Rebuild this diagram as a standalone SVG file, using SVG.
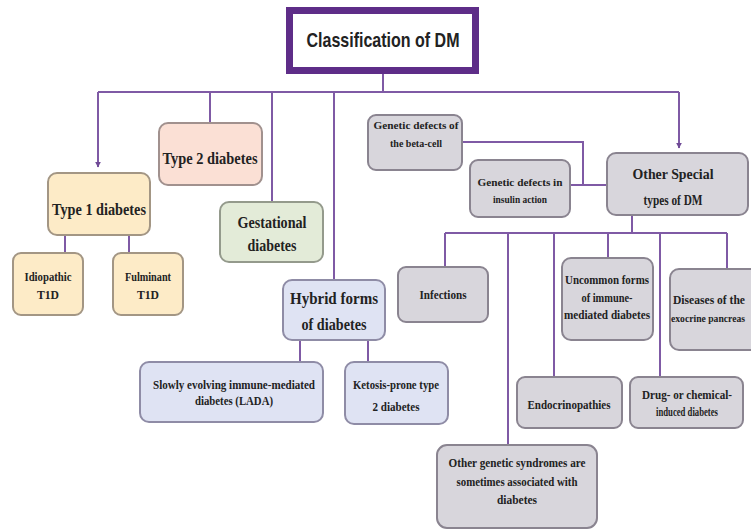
<svg xmlns="http://www.w3.org/2000/svg" width="751" height="531" viewBox="0 0 751 531">
<defs>
<marker id="arr" viewBox="0 0 10 10" refX="9" refY="5" markerWidth="6" markerHeight="6" markerUnits="userSpaceOnUse" orient="auto">
<path d="M0,0 L10,5 L0,10 z" fill="#6f4a96"/>
</marker>
<style>
.c{fill:none;stroke:#7f5aa5;stroke-width:2}
.b{stroke-width:2}
.y{fill:#fdebc7;stroke:#a39684}
.o{fill:#fbe0d5;stroke:#a1918e}
.g{fill:#e3ebd8;stroke:#949a8c}
.l{fill:#dfe3f3;stroke:#8f8ca6}
.k{fill:#d8d6dc;stroke:#8a8490}
text{font-family:"Liberation Serif","Times New Roman",serif;font-weight:bold;fill:#222;text-anchor:middle}
.t1{font-size:17px}
.t2{font-size:15px}
.t3{font-size:12px}
.t4{font-size:11px}
.t5{font-size:10.5px}
</style>
</defs>
<rect width="751" height="531" fill="#ffffff"/>
<g id="connectors">
<path class="c" d="M383,72 V92 M98,92 H679 M210,92 V123 M272,92 V202 M334,92 V280"/>
<path class="c" d="M98,92 V167" marker-end="url(#arr)"/>
<path class="c" d="M679,92 V148" marker-end="url(#arr)"/>
<path class="c" d="M65,235 V253 M129,235 V253 M300,340 V362 M368,340 V362"/>
<path class="c" d="M462,142 H583 V185 M570,185 H607"/>
<path class="c" d="M632,215 V233 M445,233 H727 M445,233 V267 M508,233 V445 M554,233 V377 M608,233 V258 M660,233 V377 M727,233 V268"/>
</g>
<g id="title">
<rect x="289.5" y="10.5" width="186" height="60" fill="#ffffff" stroke="#5e2d88" stroke-width="7"/>
<text x="383" y="47" style="font-family:'Liberation Sans',Arial,sans-serif;font-size:21px" textLength="153" lengthAdjust="spacingAndGlyphs">Classification of DM</text>
</g>
<g id="type1">
<rect class="b y" x="48" y="173" width="102" height="62" rx="9"/>
<text class="t1" x="99" y="215" textLength="94" lengthAdjust="spacingAndGlyphs">Type 1 diabetes</text>
</g>
<g id="idiopathic">
<rect class="b y" x="13" y="253" width="70" height="62" rx="8"/>
<text class="t3" x="48" y="281" textLength="47" lengthAdjust="spacingAndGlyphs">Idiopathic</text>
<text class="t3" x="48" y="299" textLength="22" lengthAdjust="spacingAndGlyphs">T1D</text>
</g>
<g id="fulminant">
<rect class="b y" x="113" y="253" width="70" height="62" rx="8"/>
<text class="t3" x="148" y="281" textLength="46" lengthAdjust="spacingAndGlyphs">Fulminant</text>
<text class="t3" x="148" y="299" textLength="22" lengthAdjust="spacingAndGlyphs">T1D</text>
</g>
<g id="type2">
<rect class="b o" x="159" y="123" width="103" height="62" rx="9"/>
<text class="t1" x="210" y="164" textLength="95" lengthAdjust="spacingAndGlyphs">Type 2 diabetes</text>
</g>
<g id="gestational">
<rect class="b g" x="220" y="202" width="103" height="60" rx="9"/>
<text class="t1" x="272" y="228" textLength="69" lengthAdjust="spacingAndGlyphs">Gestational</text>
<text class="t1" x="272" y="251" textLength="49" lengthAdjust="spacingAndGlyphs">diabetes</text>
</g>
<g id="hybrid">
<rect class="b l" x="283" y="280" width="102" height="60" rx="9"/>
<text class="t1" x="334" y="304" textLength="88" lengthAdjust="spacingAndGlyphs">Hybrid forms</text>
<text class="t1" x="334" y="330" textLength="65" lengthAdjust="spacingAndGlyphs">of diabetes</text>
</g>
<g id="lada">
<rect class="b l" x="140" y="362" width="183" height="60" rx="9"/>
<text class="t3" x="234" y="389" textLength="162" lengthAdjust="spacingAndGlyphs">Slowly evolving immune-mediated</text>
<text class="t3" x="234" y="405" textLength="78" lengthAdjust="spacingAndGlyphs">diabetes (LADA)</text>
</g>
<g id="ketosis">
<rect class="b l" x="345" y="362" width="103" height="62" rx="9"/>
<text class="t3" x="396" y="389" textLength="86" lengthAdjust="spacingAndGlyphs">Ketosis-prone type</text>
<text class="t3" x="396" y="411" textLength="47" lengthAdjust="spacingAndGlyphs">2 diabetes</text>
</g>
<g id="beta-cell">
<rect class="b k" x="368" y="115" width="94" height="55" rx="8"/>
<text class="t4" x="416" y="129" textLength="85" lengthAdjust="spacingAndGlyphs">Genetic defects of</text>
<text class="t4" x="416" y="147" textLength="52" lengthAdjust="spacingAndGlyphs">the beta-cell</text>
</g>
<g id="insulin-action">
<rect class="b k" x="470" y="160" width="100" height="57" rx="8"/>
<text class="t4" x="520" y="186" textLength="85" lengthAdjust="spacingAndGlyphs">Genetic defects in</text>
<text class="t4" x="520" y="203" textLength="54" lengthAdjust="spacingAndGlyphs">insulin action</text>
</g>
<g id="other-special">
<rect class="b k" x="607" y="153" width="141" height="62" rx="9"/>
<text class="t2" x="673" y="179" textLength="81" lengthAdjust="spacingAndGlyphs">Other Special</text>
<text class="t2" x="673" y="205" textLength="59" lengthAdjust="spacingAndGlyphs">types of DM</text>
</g>
<g id="infections">
<rect class="b k" x="398" y="267" width="90" height="55" rx="8"/>
<text class="t3" x="443" y="299" textLength="47" lengthAdjust="spacingAndGlyphs">Infections</text>
</g>
<g id="uncommon">
<rect class="b k" x="562" y="258" width="91" height="82" rx="9"/>
<text class="t3" x="607" y="284" textLength="84" lengthAdjust="spacingAndGlyphs">Uncommon forms</text>
<text class="t3" x="607" y="302" textLength="51" lengthAdjust="spacingAndGlyphs">of immune-</text>
<text class="t3" x="607" y="319" textLength="86" lengthAdjust="spacingAndGlyphs">mediated diabetes</text>
</g>
<g id="exocrine">
<rect class="b k" x="670" y="269" width="104" height="81" rx="9"/>
<text class="t3" x="709" y="304" textLength="72" lengthAdjust="spacingAndGlyphs">Diseases of the</text>
<text class="t5" x="708" y="322" textLength="74" lengthAdjust="spacingAndGlyphs">exocrine pancreas</text>
</g>
<g id="endocrinopathies">
<rect class="b k" x="517" y="377" width="105" height="51" rx="8"/>
<text class="t3" x="569" y="409" textLength="83" lengthAdjust="spacingAndGlyphs">Endocrinopathies</text>
</g>
<g id="drug">
<rect class="b k" x="630" y="377" width="113" height="51" rx="8"/>
<text class="t3" x="687" y="399" textLength="90" lengthAdjust="spacingAndGlyphs">Drug- or chemical-</text>
<text class="t3" x="687" y="416" textLength="62" lengthAdjust="spacingAndGlyphs">induced diabetes</text>
</g>
<g id="other-genetic">
<rect class="b k" x="437" y="445" width="160" height="83" rx="10"/>
<text class="t3" x="517" y="467" textLength="137" lengthAdjust="spacingAndGlyphs">Other genetic syndromes are</text>
<text class="t3" x="517" y="486" textLength="121" lengthAdjust="spacingAndGlyphs">sometimes associated with</text>
<text class="t3" x="517" y="504" textLength="40" lengthAdjust="spacingAndGlyphs">diabetes</text>
</g>
</svg>
